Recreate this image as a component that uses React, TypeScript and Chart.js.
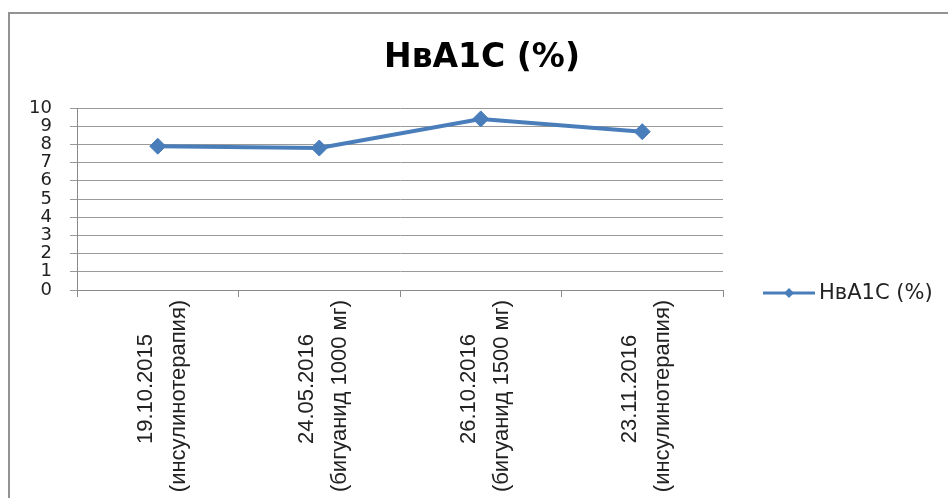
import React, { useEffect, useRef } from 'react';
import { Chart, registerables } from 'chart.js';

Chart.register(...registerables);

const chartTitle = 'НвА1С (%)';
const seriesName = 'НвА1С (%)';
const dates = ['19.10.2015', '24.05.2016', '26.10.2016', '23.11.2016'];
const therapies = ['(инсулинотерапия)', '(бигуанид 1000 мг)', '(бигуанид 1500 мг)', '(инсулинотерапия)'];
const hba1c = [7.9, 7.8, 9.4, 8.7];
const yMin = 0;
const yMax = 10;
const yStep = 1;

const BLUE = '#4a7ebb';
const TEXT = '#222222';

const decorPlugin = {
  id: 'decor',
  beforeDraw(chart: any) {
    const ctx = chart.ctx;
    ctx.save();
    ctx.fillStyle = '#ffffff';
    ctx.fillRect(0, 0, chart.width, chart.height);
    ctx.fillStyle = '#939393';
    ctx.fillRect(8, 12, 2, chart.height - 12);
    ctx.fillRect(8, 12, chart.width - 8, 2);
    ctx.restore();
  },
  afterDraw(chart: any) {
    const ctx = chart.ctx;
    ctx.save();
    // title
    ctx.font = 'bold 33px "DejaVu Sans"';
    ctx.fillStyle = '#000000';
    ctx.textAlign = 'center';
    ctx.textBaseline = 'alphabetic';
    ctx.fillText(chartTitle, 482, 67);

    // category labels, rotated, centred
    const xs = chart.scales.x;
    ctx.font = '22px "Liberation Sans"';
    ctx.fillStyle = TEXT;
    dates.forEach((d, i) => {
      const px = xs.getPixelForValue(i);
      ctx.save();
      ctx.translate(px, 392);
      ctx.rotate(-Math.PI / 2);
      ctx.textAlign = 'center';
      ctx.textBaseline = 'alphabetic';
      ctx.fillText(d, 3, -6);
      ctx.fillText(therapies[i], -4, 27);
      ctx.restore();
    });

    // legend
    const ly = 293;
    ctx.strokeStyle = BLUE;
    ctx.lineWidth = 3;
    ctx.beginPath();
    ctx.moveTo(763, ly);
    ctx.lineTo(815, ly);
    ctx.stroke();
    ctx.fillStyle = BLUE;
    ctx.beginPath();
    ctx.moveTo(789, ly - 5);
    ctx.lineTo(794, ly);
    ctx.lineTo(789, ly + 5);
    ctx.lineTo(784, ly);
    ctx.closePath();
    ctx.fill();
    ctx.font = '21px "DejaVu Sans"';
    ctx.fillStyle = TEXT;
    ctx.textAlign = 'left';
    ctx.textBaseline = 'alphabetic';
    ctx.fillText(seriesName, 819, 299);
    ctx.restore();
  },
};

export default function App() {
  const canvasRef = useRef<HTMLCanvasElement | null>(null);

  useEffect(() => {
    const canvas = canvasRef.current;
    if (!canvas) return;
    const chart = new Chart(canvas, {
      type: 'line',
      data: {
        labels: dates,
        datasets: [
          {
            label: seriesName,
            data: hba1c,
            borderColor: BLUE,
            backgroundColor: BLUE,
            borderWidth: 4,
            pointStyle: 'rectRot',
            pointRadius: 8,
            pointBackgroundColor: BLUE,
            pointBorderColor: BLUE,
            pointBorderWidth: 1,
            tension: 0,
            fill: false,
            clip: false,
          },
        ],
      },
      options: {
        responsive: false,
        animation: false,
        layout: { padding: { top: 108, left: 0, right: 225, bottom: 201 } },
        plugins: {
          legend: { display: false },
          title: { display: false },
          tooltip: { enabled: false },
        },
        scales: {
          x: {
            type: 'category',
            offset: true,
            grid: { offset: true, drawOnChartArea: false, drawTicks: true, tickLength: 7, color: '#8a8a8a' },
            border: { color: '#8a8a8a', width: 1 },
            ticks: { display: false },
          },
          y: {
            min: yMin,
            max: yMax,
            ticks: {
              stepSize: yStep,
              autoSkip: false,
              padding: 18,
              color: TEXT,
              font: { family: '"DejaVu Sans"', size: 18 },
            },
            grid: { color: '#9a9a9a', tickLength: 7 },
            border: { color: '#8a8a8a', width: 1 },
            afterFit(scale: any) {
              scale.width = 77;
            },
          },
        },
      },
      plugins: [decorPlugin],
    } as any);
    return () => chart.destroy();
  }, []);

  return (
    <div style={{ position: 'fixed', left: 0, top: 0, width: 948, height: 498, background: '#fff' }}>
      <canvas ref={canvasRef} width={948} height={498} style={{ display: 'block' }} />
    </div>
  );
}
